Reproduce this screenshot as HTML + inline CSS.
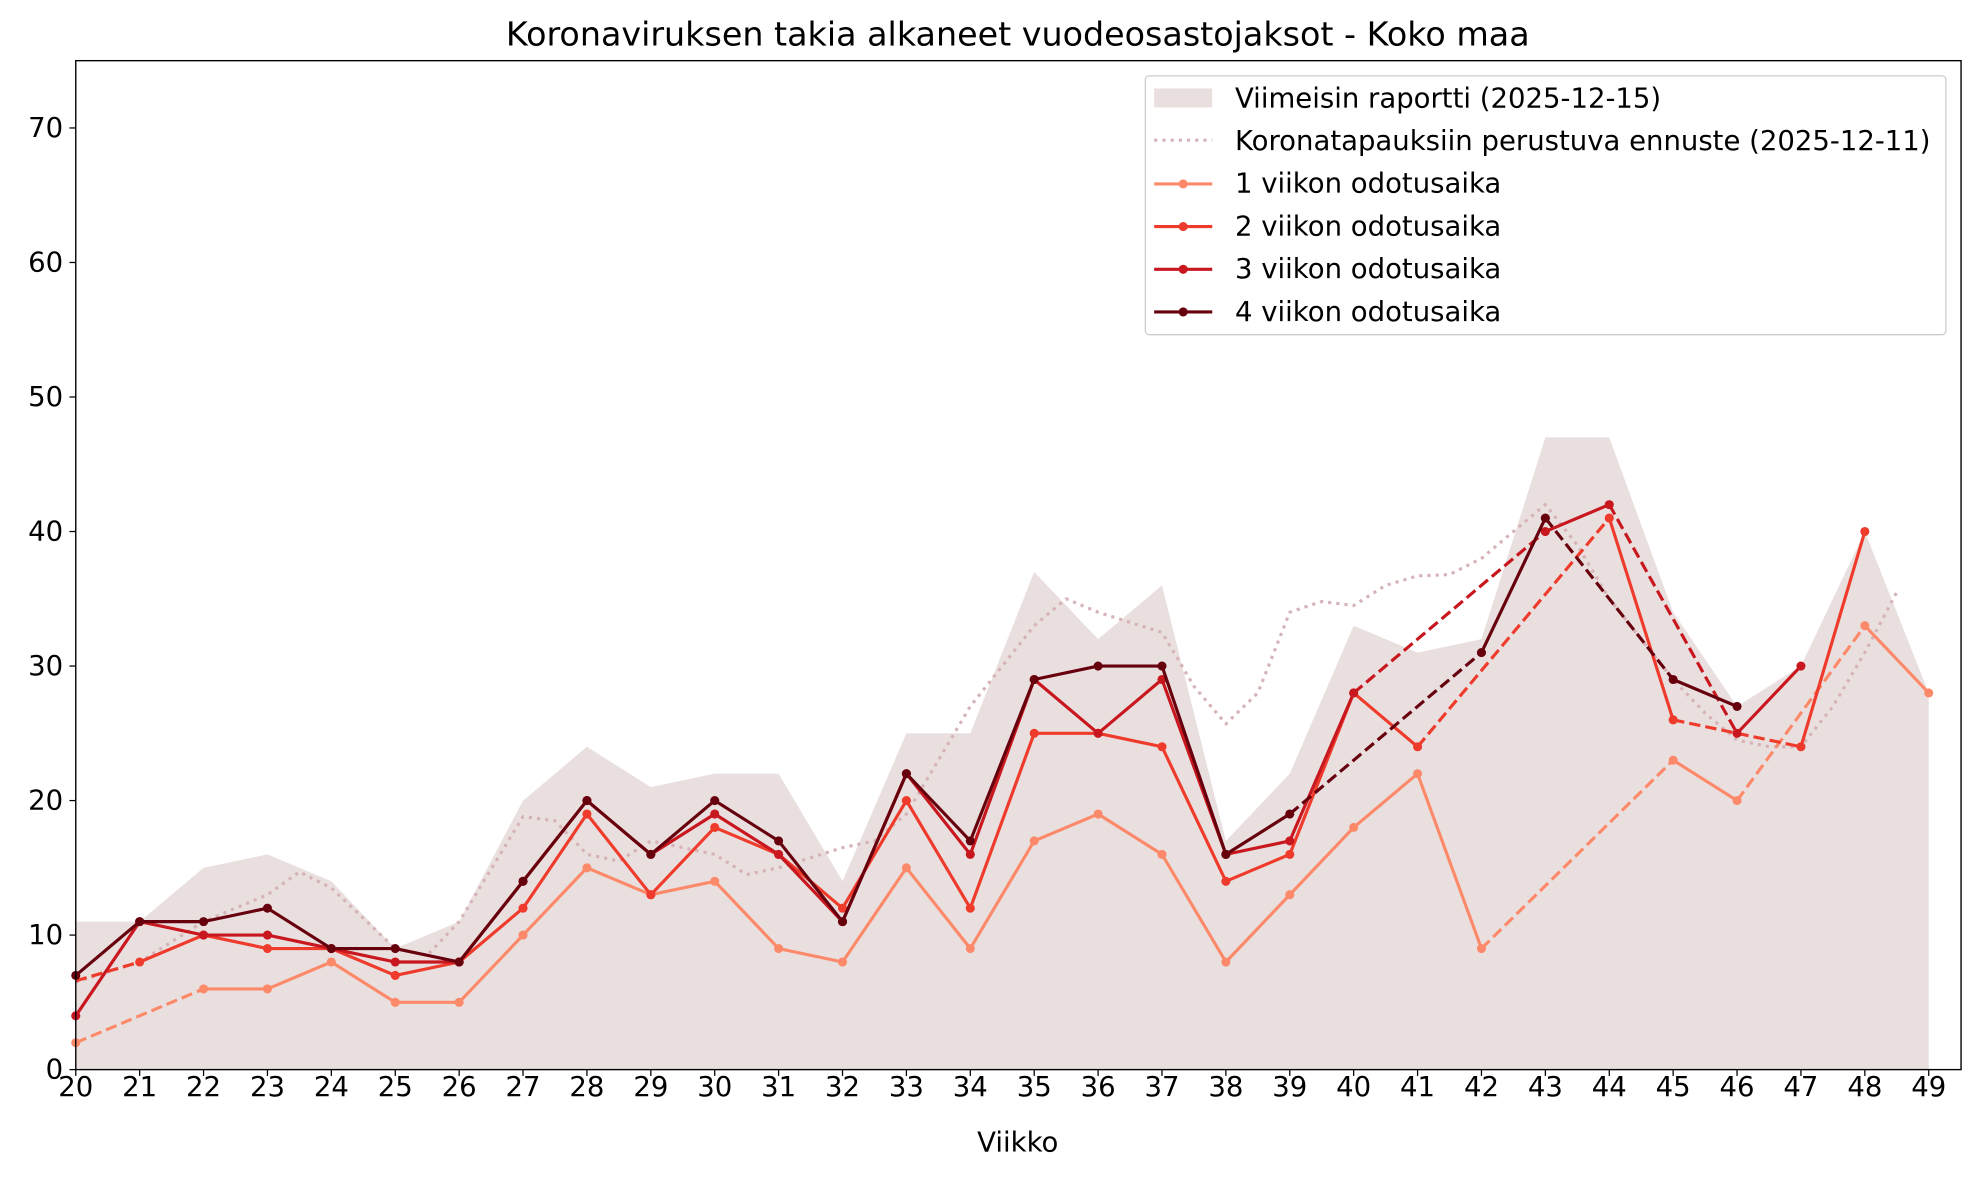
<!DOCTYPE html>
<html><head><meta charset="utf-8"><style>
html,body{margin:0;padding:0;background:#fff}
svg{display:block;font-family:"DejaVu Sans","Liberation Sans",sans-serif}
</style></head><body>
<svg id="s" width="1980" height="1177" viewBox="0 0 1568 932" xmlns="http://www.w3.org/2000/svg"></svg>
<script>
const S=document.getElementById('s');
const X=w=>60+(w-20)*50.6, Y=v=>847-v*10.653;
let h='';
const area=[11,11,15,16,14,9,11,20,24,21,22,22,14,25,25,37,32,36,17,22,33,31,32,47,47,34,27,30,40,28];
let p='M'+X(20)+','+Y(0);
area.forEach((v,i)=>p+=' L'+X(20+i)+','+Y(v));
p+=' L'+X(49)+','+Y(0)+'Z';
h+=`<path d="${p}" fill="#eadfdf"/>`;
const fc=[[20,6.5],[21,8],[22,11],[23,13],[23.5,14.7],[24,13.5],[25,9],[25.5,8.5],[26,11],[27,18.8],[27.5,18.5],[28,16],[28.5,15.5],[29,17],[30,16],[30.5,14.5],[31,15],[32,16.5],[32.5,17],[33,19],[34,27],[35,33],[35.5,35],[36,34],[37,32.5],[37.5,28.5],[38,25.7],[38.5,28],[39,34],[39.5,34.8],[40,34.5],[40.5,36],[41,36.7],[41.5,36.8],[42,38],[42.5,40],[43,42],[43.5,39],[44,35],[44.5,32],[45,29],[45.5,26.5],[46,24.5],[46.5,24],[47,24],[47.5,27],[48,31],[48.5,35.5]];
h+=`<polyline points="${fc.map(a=>X(a[0])+','+Y(a[1])).join(' ')}" fill="none" stroke="#d6b3b6" stroke-width="2.5" stroke-dasharray="2.5,4" stroke-linejoin="round"/>`;
function ser(c,solid,dashed){
  dashed.forEach(d=>h+=`<polyline points="${d.map(a=>X(a[0])+','+Y(a[1])).join(' ')}" fill="none" stroke="${c}" stroke-width="2.5" stroke-dasharray="9,4"/>`);
  solid.forEach(d=>{h+=`<polyline points="${d.map(a=>X(a[0])+','+Y(a[1])).join(' ')}" fill="none" stroke="${c}" stroke-width="2.5" stroke-linejoin="round"/>`;
    d.forEach(a=>h+=`<circle cx="${X(a[0])}" cy="${Y(a[1])}" r="3.6" fill="${c}"/>`);});
}
const z=(s,arr)=>arr.map((v,i)=>[s+i,v]);
ser('#fc8a6a',[z(22,[6,6,8,5,5,10,15,13,14,9,8,15,9,17,19,16,8,13,18,22,9]),z(45,[23,20]),z(48,[33,28]),[[20,2]]],[[[20,2],[22,6]],[[42,9],[45,23]],[[46,20],[48,33]]]);
ser('#ef3b2c',[z(21,[8,10,9,9,7,8,12,19,13,18,16,12,20,12,25,25,24,14,16,28,24]),z(44,[41,26]),z(47,[24,40])],[[[20,6.6],[21,8]],[[41,24],[44,41]],[[45,26],[47,24]]]);
ser('#c8171e',[z(20,[4,11,10,10,9,8,8,14,20,16,19,16,11,22,16,29,25,29,16,17,28]),z(43,[40,42]),z(46,[25,30])],[[[40,28],[43,40]],[[44,42],[46,25]]]);
ser('#67000d',[z(20,[7,11,11,12,9,9,8,14,20,16,20,17,11,22,17,29,30,30,16,19]),z(42,[31,41]),z(45,[29,27])],[[[39,19],[42,31]],[[43,41],[45,29]]]);
h+=`<rect x="60" y="48" width="1493" height="799" fill="none" stroke="#000" stroke-width="1.1"/>`;
for(let v=0;v<=70;v+=10){h+=`<line x1="55" x2="60" y1="${Y(v)}" y2="${Y(v)}" stroke="#000"/><text x="50" y="${Y(v)+7}" font-size="21.8" text-anchor="end">${v}</text>`;}
for(let w=20;w<=49;w++){h+=`<line x1="${X(w)}" x2="${X(w)}" y1="847" y2="852" stroke="#000"/><text x="${X(w)}" y="868" font-size="21.8" text-anchor="middle">${w}</text>`;}
h+=`<text x="806" y="912" font-size="21.8" text-anchor="middle">Viikko</text>`;
h+=`<text x="806" y="36" font-size="26.4" text-anchor="middle">Koronaviruksen takia alkaneet vuodeosastojaksot - Koko maa</text>`;
h+=`<rect x="907" y="60" width="634" height="205" rx="3" fill="#fff" fill-opacity="0.8" stroke="#ccc"/>`;
h+=`<rect x="914" y="70" width="46" height="15" fill="#eadfdf"/>`;
h+=`<line x1="914" x2="960" y1="111" y2="111" stroke="#d6b3b6" stroke-width="2.5" stroke-dasharray="2.5,4"/>`;
const L=[['Viimeisin raportti (2025-12-15)'],['Koronatapauksiin perustuva ennuste (2025-12-11)'],['1 viikon odotusaika','#fc8a6a'],['2 viikon odotusaika','#ef3b2c'],['3 viikon odotusaika','#c8171e'],['4 viikon odotusaika','#67000d']];
L.forEach((e,i)=>{const y=77+i*33.8;
 if(e[1]){h+=`<line x1="914" x2="960" y1="${y+1}" y2="${y+1}" stroke="${e[1]}" stroke-width="2.5"/><circle cx="937" cy="${y+1}" r="3.6" fill="${e[1]}"/>`;}
 h+=`<text x="978" y="${y+8}" font-size="21.8">${e[0]}</text>`;});
S.innerHTML=h;
</script>
</body></html>
